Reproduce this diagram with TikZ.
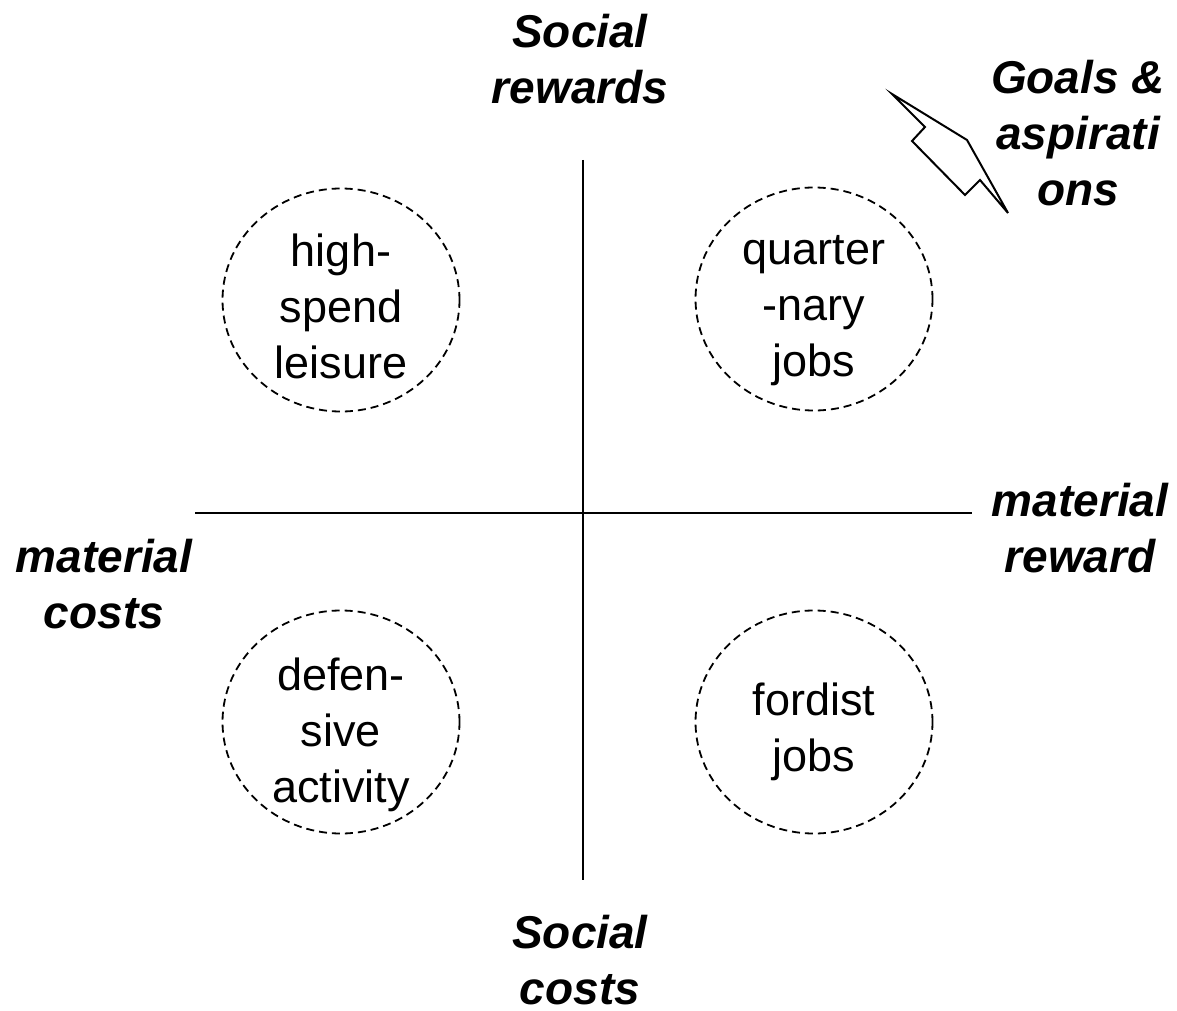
\documentclass[tikz,border=0pt]{standalone}
\usepackage{fontspec}
\setmainfont{Liberation Sans}
\usetikzlibrary{shapes.geometric}
\begin{document}
\begin{tikzpicture}[x=1pt,y=-1pt,
  lbl/.style={font=\fontsize{46}{56}\selectfont\bfseries\itshape, align=center, inner sep=0pt},
  bubble/.style={ellipse, draw, line width=1.8pt, dash pattern=on 8pt off 5pt,
     minimum width=237pt, minimum height=223pt, inner sep=0pt},
  btext/.style={font=\fontsize{45}{56}\selectfont, align=center, inner sep=0pt},
  axis/.style={line width=2pt}]
\useasboundingbox (0,0) rectangle (1177,1011);
% axes
\coordinate (vt) at (583,160);
\coordinate (vb) at (583,880);
\coordinate (hl) at (195,513);
\coordinate (hr) at (972,513);
\draw[axis] (vt) -- (vb);
\draw[axis] (hl) -- (hr);
% bubbles
\node[bubble] (hsl) at (341,300) {};
\node[bubble] (qnj) at (814,299) {};
\node[bubble] (dsa) at (341,722) {};
\node[bubble] (fj)  at (814,722) {};
\node[btext, yshift=-6pt] (hslt) at (hsl.center) {high-\\spend\\leisure};
\node[btext, yshift=-12pt] (qnjt) at (qnj.center) {quarter\\-nary\\jobs};
\node[btext, yshift=-13pt] (dsat) at (dsa.center) {defen-\\sive\\activity};
\node[btext, yshift=-10pt] (fjt) at (fj.center) {fordist\\jobs};
% labels
\node[lbl] (sr) at (580,59) {Social\\rewards};
\node[lbl] (sc) at (580,960) {Social\\costs};
\node[lbl] (mr) at (1080,528) {material\\reward};
\node[lbl] (mc) at (104,584) {material\\costs};
\node[lbl] (ga) at (1078,133) {Goals \&\\aspirati\\ons};
% block arrow
\draw[line width=2pt, line join=miter] (892,94) -- (967,140) -- (1008,213) -- (980,180)
  -- (965,195) -- (912,141) -- (925,127) -- cycle;
\end{tikzpicture}
\end{document}
